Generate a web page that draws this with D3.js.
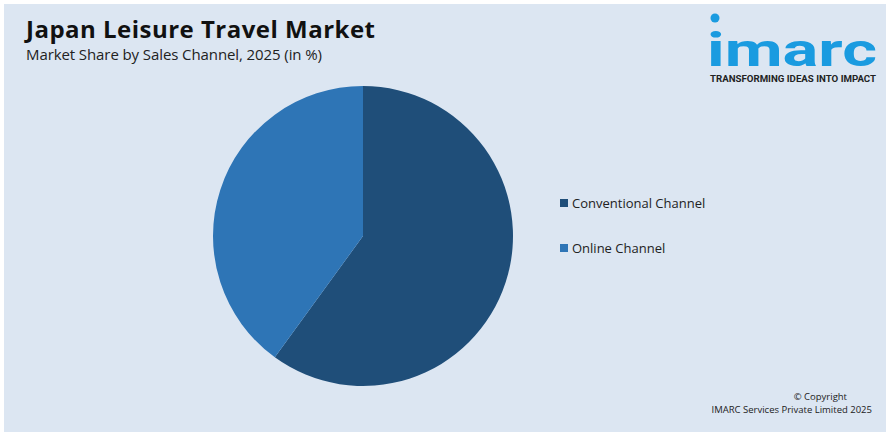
<!DOCTYPE html>
<html><head><meta charset="utf-8">
<script src="https://cdn.jsdelivr.net/npm/d3@7"></script>
<style>body{margin:0;background:#fff}svg{display:block;font-family:"Open Sans",sans-serif}</style>
</head><body>
<svg id="c" width="890" height="436"></svg>
<script>
const categories = ["Conventional Channel", "Online Channel"];
const shares = [60, 40];
const colors = ["#1f4e79", "#2e75b6"];

const svg = d3.select("#c");
svg.append("rect").attr("x",4).attr("y",4).attr("width",882).attr("height",428).attr("fill","#dce6f2");

svg.append("text").attr("x",26).attr("y",38).attr("font-size",24).attr("font-weight",700).attr("fill","#111").attr("textLength",349).text("Japan Leisure Travel Market");
svg.append("text").attr("x",26).attr("y",60).attr("font-size",15).attr("fill","#222").attr("textLength",296).text("Market Share by Sales Channel, 2025 (in %)");

// logo
const lg = svg.append("g");
lg.append("circle").attr("cx",715).attr("cy",18).attr("r",4.5).attr("fill","#1a9be0");
lg.append("text").attr("x",707).attr("y",66).attr("font-size",46).attr("font-weight",700).attr("fill","#1a9be0").attr("textLength",170).attr("lengthAdjust","spacingAndGlyphs").attr("font-family","Roboto,sans-serif").text("imarc");
lg.append("text").attr("x",710).attr("y",82).attr("font-size",8.5).attr("font-weight",700).attr("fill","#222").attr("textLength",166).attr("lengthAdjust","spacingAndGlyphs").attr("font-family","Roboto,sans-serif").text("TRANSFORMING IDEAS INTO IMPACT");

const data = categories.map((c,i)=>({c,v:shares[i],col:colors[i]}));
const pie = d3.pie().value(d=>d.v).sort(null);
const arc = d3.arc().innerRadius(0).outerRadius(150);
svg.append("g").attr("transform","translate(363,236)")
  .selectAll("path").data(pie(data)).join("path").attr("d",arc).attr("fill",d=>d.data.col);

const leg = svg.append("g").attr("transform","translate(560,203)");
data.forEach((d,i)=>{
  const g = leg.append("g").attr("transform",`translate(0,${i*45})`);
  g.append("rect").attr("x",0).attr("y",-4).attr("width",8).attr("height",8).attr("fill",d.col);
  g.append("text").attr("x",12).attr("y",4.5).attr("font-size",13).attr("fill","#222").text(d.c);
});

svg.append("text").attr("x",847).attr("y",400).attr("text-anchor","end").attr("font-size",9.5).attr("fill","#222").text("© Copyright");
svg.append("text").attr("x",872).attr("y",413).attr("text-anchor","end").attr("font-size",9.5).attr("fill","#222").text("IMARC Services Private Limited 2025");
</script>
</body></html>
